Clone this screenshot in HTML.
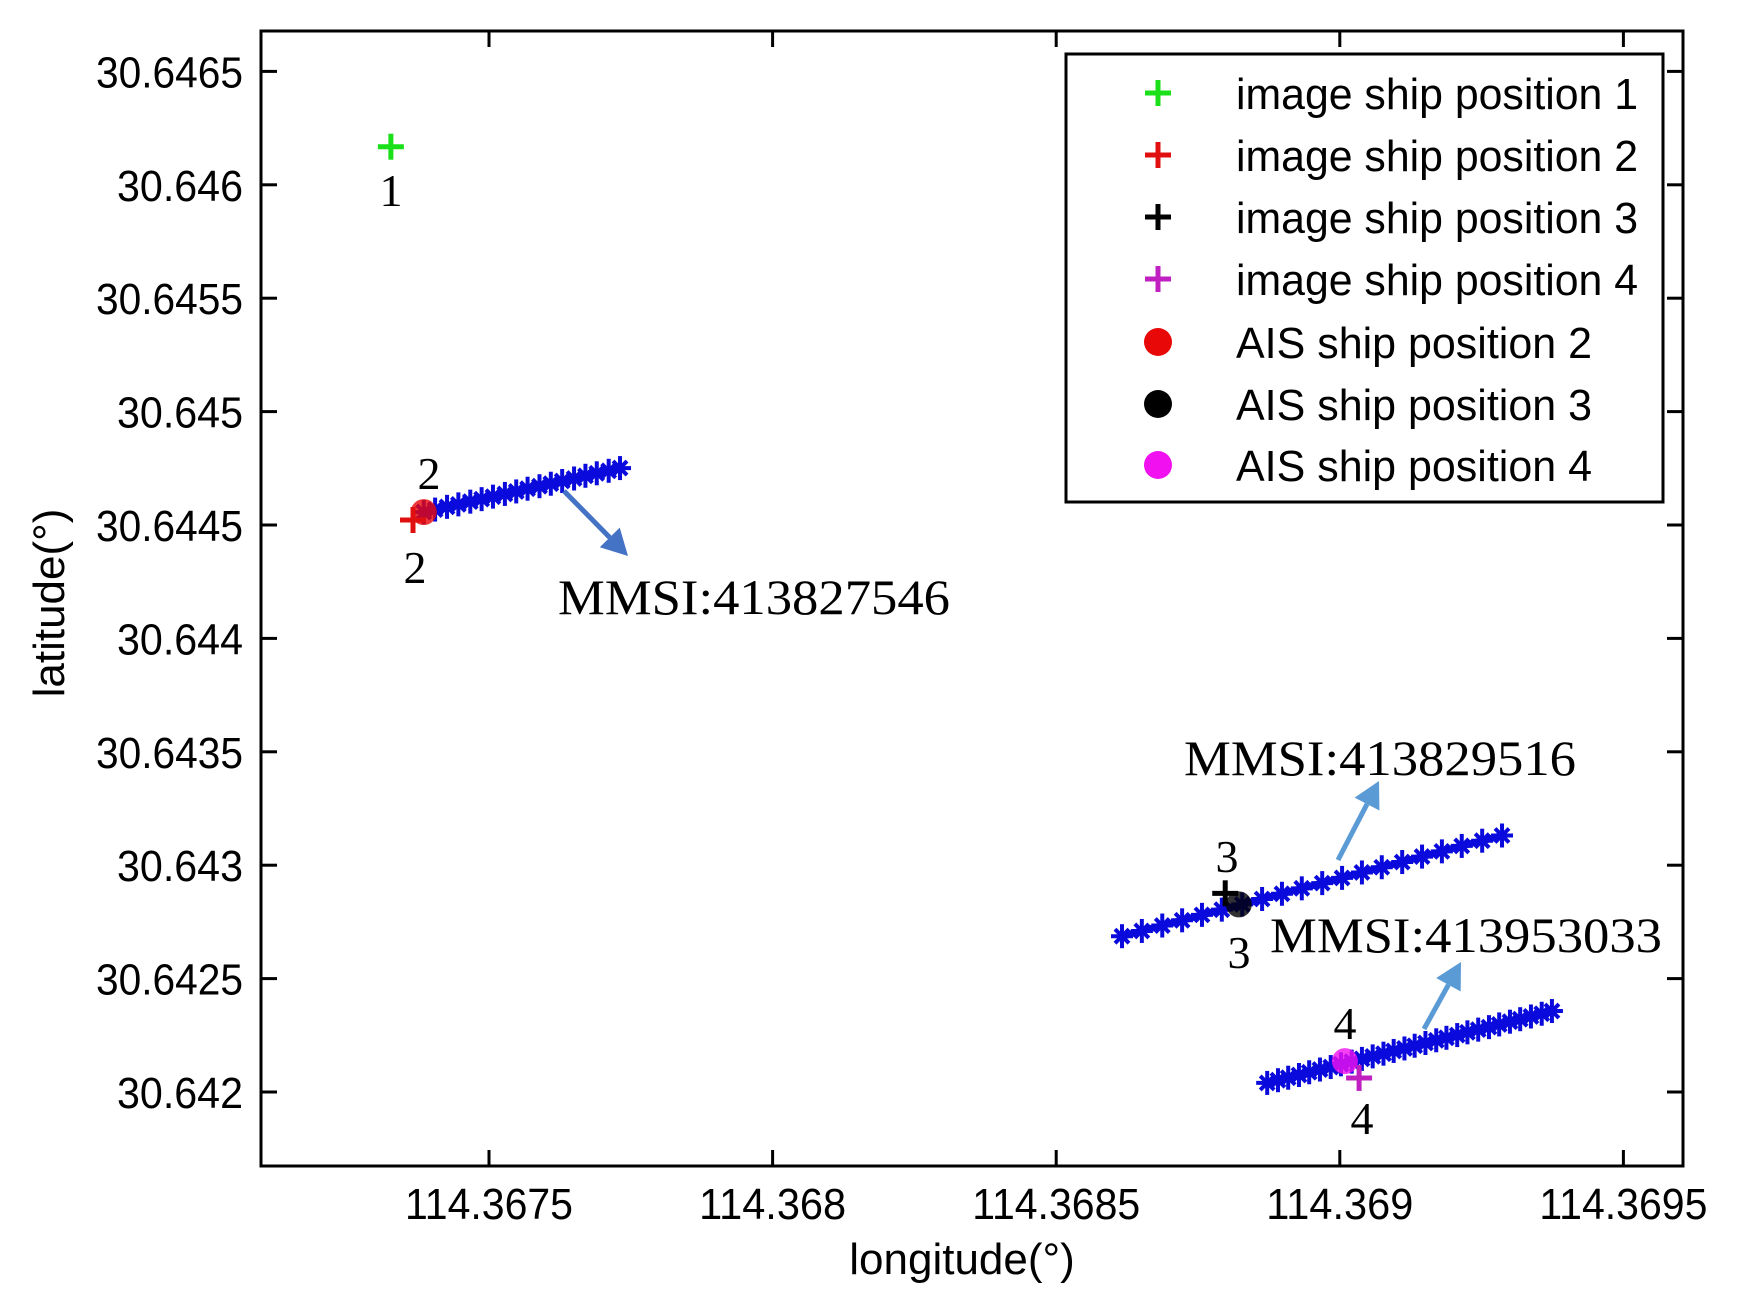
<!DOCTYPE html>
<html><head><meta charset="utf-8"><style>
html,body{margin:0;padding:0;background:#fff;}
svg{display:block;}
.tk{font-family:"Liberation Sans",sans-serif;font-size:44px;fill:#000;}
.sf{font-family:"Liberation Serif",serif;fill:#000;}
</style></head><body>
<svg id="chart" width="1749" height="1314" viewBox="0 0 1749 1314" xmlns="http://www.w3.org/2000/svg"></svg>
<script>
const xTicks = [114.3675, 114.368, 114.3685, 114.369, 114.3695];
const xTickLabels = ["114.3675","114.368","114.3685","114.369","114.3695"];
const yTicks = [30.6465,30.646,30.6455,30.645,30.6445,30.644,30.6435,30.643,30.6425,30.642];
const yTickLabels = ["30.6465","30.646","30.6455","30.645","30.6445","30.644","30.6435","30.643","30.6425","30.642"];
const imageLon = [114.367327, 114.367366, 114.368798, 114.369034];
const imageLat = [30.646168, 30.644522, 30.642876, 30.642062];
const aisLon = [114.367385, 114.368822, 114.369009];
const aisLat = [30.644557, 30.642827, 30.642136];
const track1Lon = [114.367385,114.367405,114.367426,114.367446,114.367467,114.367487,114.367507,114.367528,114.367548,114.367568,114.367589,114.367609,114.367629,114.367650,114.367670,114.367690,114.367711,114.367731];
const track1Lat = [30.644557,30.644568,30.644580,30.644591,30.644603,30.644614,30.644625,30.644637,30.644648,30.644660,30.644671,30.644682,30.644694,30.644705,30.644717,30.644728,30.644739,30.644751];
const track2Lon = [114.368616,114.368651,114.368687,114.368722,114.368757,114.368792,114.368828,114.368863,114.368898,114.368933,114.368969,114.369004,114.369039,114.369074,114.369110,114.369145,114.369180,114.369215,114.369251,114.369286];
const track2Lat = [30.642687,30.642710,30.642734,30.642757,30.642781,30.642804,30.642827,30.642851,30.642874,30.642898,30.642921,30.642944,30.642968,30.642991,30.643014,30.643038,30.643061,30.643085,30.643108,30.643131];
const track3Lon = [114.368872,114.368891,114.368909,114.368928,114.368946,114.368965,114.368984,114.369002,114.369021,114.369039,114.369058,114.369077,114.369095,114.369114,114.369132,114.369151,114.369170,114.369188,114.369207,114.369225,114.369244,114.369263,114.369281,114.369300,114.369318,114.369337,114.369356,114.369374];
const track3Lat = [30.642040,30.642052,30.642063,30.642075,30.642087,30.642099,30.642110,30.642122,30.642134,30.642146,30.642157,30.642169,30.642181,30.642192,30.642204,30.642216,30.642228,30.642239,30.642251,30.642263,30.642275,30.642286,30.642298,30.642310,30.642321,30.642333,30.642345,30.642357];
const legendLabels = ["image ship position 1","image ship position 2","image ship position 3","image ship position 4","AIS ship position 2","AIS ship position 3","AIS ship position 4"];
const imageColors = ["#19e019","#e01010","#000000","#c020c0"];
const aisColors = ["#e80808","#000000","#f010f0"];

const L=261,R=1683,T=31,B=1166;
function X(v){return 489+(v-114.3675)/0.0005*283.6;}
function Y(v){return 1092-(v-30.642)/0.0005*113.4;}
const NS="http://www.w3.org/2000/svg";
const svg=document.getElementById('chart');
function mk(tag,attrs,parent){const e=document.createElementNS(NS,tag);for(const k in attrs)e.setAttribute(k,attrs[k]);(parent||svg).appendChild(e);return e;}

const frame=mk('rect',{x:L,y:T,width:R-L,height:B-T,fill:'#fff',stroke:'#000','stroke-width':3});



xTicks.forEach((v,i)=>{
  const x=X(v);
  const g=mk('g',{});
  
  
  mk('line',{x1:x,y1:B,x2:x,y2:B-16,stroke:'#000','stroke-width':3},g);
  mk('line',{x1:x,y1:T,x2:x,y2:T+16,stroke:'#000','stroke-width':3},g);
  const t=mk('text',{x:x,y:1219,'text-anchor':'middle',class:'tk',textLength:xTickLabels[i].length*21,lengthAdjust:'spacingAndGlyphs'},g);
  t.textContent=xTickLabels[i];
});
yTicks.forEach((v,i)=>{
  const y=Y(v);
  const g=mk('g',{});
  
  
  mk('line',{x1:L,y1:y,x2:L+16,y2:y,stroke:'#000','stroke-width':3},g);
  mk('line',{x1:R,y1:y,x2:R-16,y2:y,stroke:'#000','stroke-width':3},g);
  const t=mk('text',{x:243,y:y+16,'text-anchor':'end',class:'tk',textLength:yTickLabels[i].length*21,lengthAdjust:'spacingAndGlyphs'},g);
  t.textContent=yTickLabels[i];
});

const xl=mk('text',{x:962,y:1274,'text-anchor':'middle',class:'tk','font-size':41});


xl.textContent='longitude(°)';
const yl=mk('text',{x:0,y:0,'text-anchor':'middle',class:'tk','font-size':41,transform:'translate(64,603) rotate(-90)'});


yl.textContent='latitude(°)';

function plus(x,y,c,parent){
  mk('line',{x1:x-13,y1:y,x2:x+13,y2:y,stroke:c,'stroke-width':5},parent);
  mk('line',{x1:x,y1:y-13,x2:x,y2:y+13,stroke:c,'stroke-width':5},parent);
}
function star(x,y,parent){
  mk('line',{x1:x-11,y1:y,x2:x+11,y2:y,stroke:'#0a0adc','stroke-width':4},parent);
  mk('line',{x1:x,y1:y-12,x2:x,y2:y+12,stroke:'#0a0adc','stroke-width':4},parent);
  mk('line',{x1:x-7,y1:y-7,x2:x+7,y2:y+7,stroke:'#0a0adc','stroke-width':4},parent);
  mk('line',{x1:x-7,y1:y+7,x2:x+7,y2:y-7,stroke:'#0a0adc','stroke-width':4},parent);
}
[[track1Lon,track1Lat],[track2Lon,track2Lat],[track3Lon,track3Lat]].forEach((tr,k)=>{
  const g=mk('g',{});
  
  
  const pts=tr[0].map((v,i)=>X(v)+','+Y(tr[1][i])).join(' ');
  mk('polyline',{points:pts,fill:'none',stroke:'#0a0adc','stroke-width':7},g);
  tr[0].forEach((v,i)=>star(X(v),Y(tr[1][i]),g));
});
aisLon.forEach((v,i)=>{
  const c=mk('circle',{cx:X(v),cy:Y(aisLat[i]),r:13,fill:aisColors[i],opacity:0.8});
  
  
});
imageLon.forEach((v,i)=>{
  const g=mk('g',{});
  
  
  plus(X(v),Y(imageLat[i]),imageColors[i],g);
});

const nums=[["1",391,206],["2",429,489],["2",415,583],["3",1227,872],["3",1239,968],["4",1345,1039],["4",1362,1134]];
nums.forEach(n=>{
  const t=mk('text',{x:n[1],y:n[2],'text-anchor':'middle',class:'sf','font-size':46});
  
  
  t.textContent=n[0];
});
const ann=[["MMSI:413827546",558,614],["MMSI:413829516",1184,775],["MMSI:413953033",1270,952]];
ann.forEach(a=>{
  const t=mk('text',{x:a[1],y:a[2],class:'sf','font-size':50,textLength:392,lengthAdjust:'spacingAndGlyphs'});
  
  
  t.textContent=a[0];
});
function arrow(x1,y1,x2,y2,c,name){
  const g=mk('g',{});
  
  
  const dx=x2-x1,dy=y2-y1,len=Math.hypot(dx,dy),ux=dx/len,uy=dy/len;
  const hl=26,hw=14;
  const bx=x2-ux*hl,by=y2-uy*hl;
  mk('line',{x1:x1,y1:y1,x2:bx,y2:by,stroke:c,'stroke-width':5},g);
  mk('polygon',{points:`${x2},${y2} ${bx-uy*hw},${by+ux*hw} ${bx+uy*hw},${by-ux*hw}`,fill:c},g);
}
arrow(564,491,628,556,'#4472c4','arrow-413827546');
arrow(1338,860,1379,781,'#5b9bd5','arrow-413829516');
arrow(1424,1029,1461,962,'#5b9bd5','arrow-413953033');

const lg=mk('g',{});


mk('rect',{x:1066,y:54,width:597,height:448,fill:'#fff',stroke:'#000','stroke-width':3},lg);
const rowY=[93,155,217,279,342,404,465];
legendLabels.forEach((s,i)=>{
  const e=mk('g',{},lg);
  
  
  if(i<4) plus(1158,rowY[i],imageColors[i],e);
  else mk('circle',{cx:1158,cy:rowY[i],r:14,fill:aisColors[i-4]},e);
  const t=mk('text',{x:1236,y:rowY[i]+16,class:'tk',textLength:(i<4?402:356),lengthAdjust:'spacingAndGlyphs'},e);
  t.textContent=s;
});
</script>
</body></html>
